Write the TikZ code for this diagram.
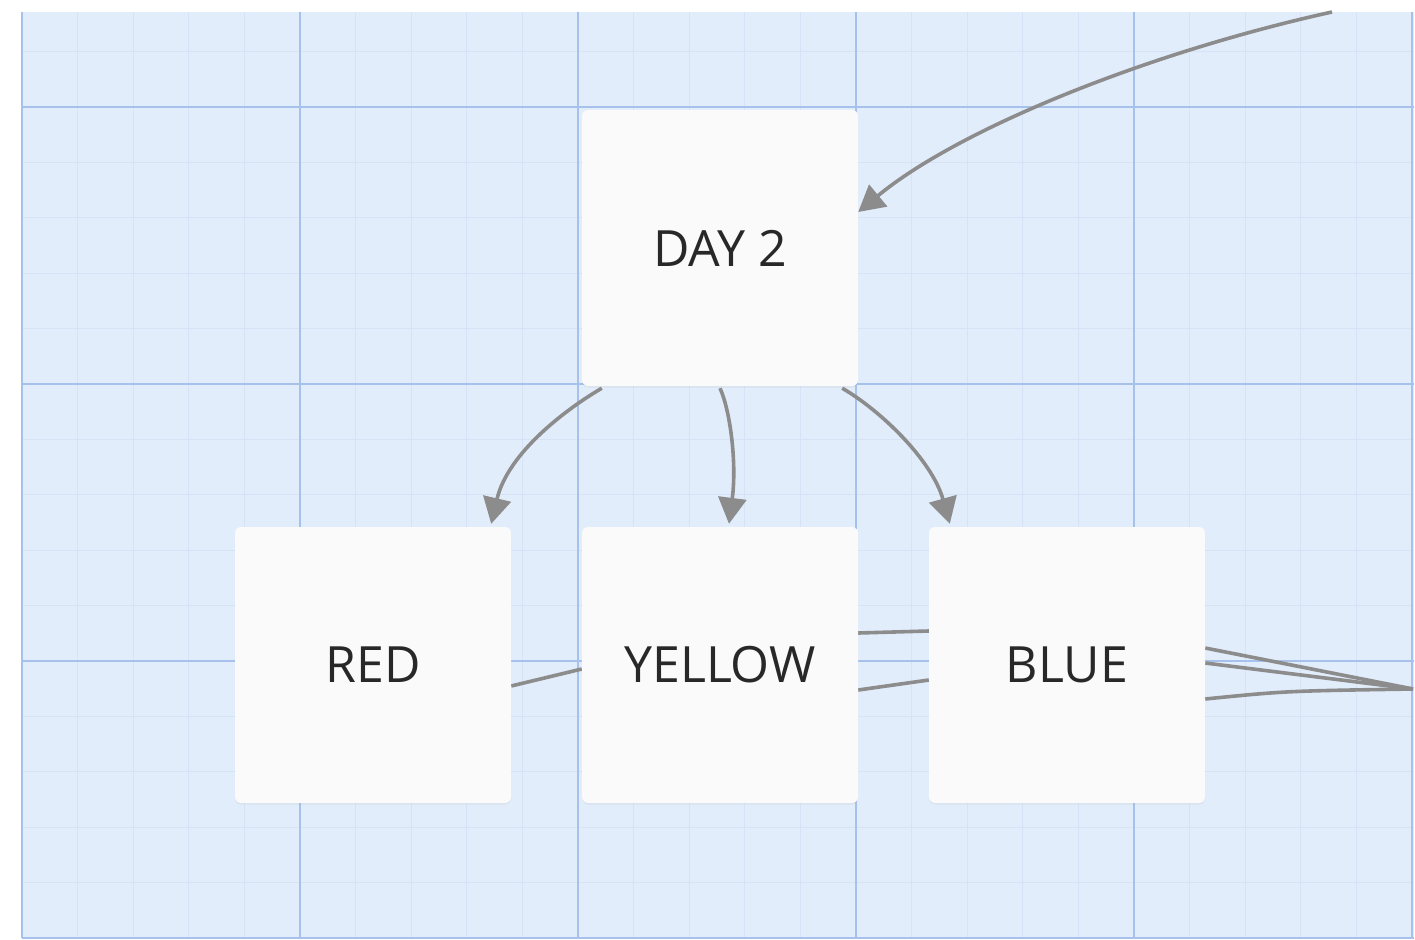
\documentclass[tikz,border=0pt]{standalone}
\usepackage{fontspec}
\setmainfont{Open Sans}
\usetikzlibrary{arrows.meta,calc,shadows}
\definecolor{paper}{RGB}{226,237,251}
\definecolor{minorline}{RGB}{214,227,246}
\definecolor{majorline}{RGB}{166,193,235}
\definecolor{cardfill}{RGB}{250,250,250}
\definecolor{linkgray}{RGB}{140,140,140}
\definecolor{labelink}{RGB}{40,40,40}
\pgfdeclarelayer{gridlayer}
\pgfdeclarelayer{linklayer}
\pgfsetlayers{gridlayer,linklayer,main}
\tikzset{
  card/.style={fill=cardfill, rounded corners=6pt, minimum width=276pt, minimum height=276pt,
    inner sep=0pt, text=labelink, font=\fontsize{50}{58}\selectfont,
    drop shadow={opacity=0.10, shadow xshift=0pt, shadow yshift=-1.5pt}},
  link/.style={draw=linkgray, line width=3.6pt},
  arrowlink/.style={link, -{Triangle[length=26pt,width=28pt]}},
  minorgrid/.style={draw=minorline, line width=0.8pt},
  majorgrid/.style={draw=majorline, line width=1.6pt}
}
\begin{document}
\begin{tikzpicture}[x=1pt,y=-1pt]
\useasboundingbox (0,0) rectangle (1415,939);

% squared paper
\begin{pgfonlayer}{gridlayer}
  \fill[paper] (22,12) rectangle (1414,938);
  \foreach \i in {0,...,25} {
    \pgfmathsetmacro\xx{22+\i*55.6}
    \draw[minorgrid] (\xx,12) -- (\xx,938);
  }
  \foreach \j in {-1,...,15} {
    \pgfmathsetmacro\yy{107+\j*55.4}
    \draw[minorgrid] (22,\yy) -- (1414,\yy);
  }
  \foreach \i in {0,5,...,25} {
    \pgfmathsetmacro\xx{22+\i*55.6}
    \draw[majorgrid] (\xx,12) -- (\xx,938);
  }
  \foreach \j in {0,5,10,15} {
    \pgfmathsetmacro\yy{107+\j*55.4}
    \draw[majorgrid] (22,\yy) -- (1414,\yy);
  }
\end{pgfonlayer}

% cards
\node[card] (day2)   at (720,248) {DAY 2};
\node[card] (red)    at (373,665) {RED};
\node[card] (yellow) at (720,665) {YELLOW};
\node[card] (blue)   at (1067,665) {BLUE};

% loose ends of links that run past the edge of the sheet
\coordinate (upstream) at (1332,12);
\coordinate (downstream) at (1413,689);

% links running behind the cards
\begin{pgfonlayer}{linklayer}
  \draw[link] ($(red.east)+(0,21)$) -- ($(yellow.west)+(0,4)$);
  \draw[link] ($(yellow.east)+(0,-32)$) -- ($(blue.west)+(0,-34)$);
  \draw[link] ($(yellow.east)+(0,25)$) -- ($(blue.west)+(0,15)$);
  \draw[link] ($(blue.east)+(0,-17)$) -- (downstream);
  \draw[link] ($(blue.east)+(0,-2)$) -- (downstream);
  \draw[link] ($(blue.east)+(0,34)$) .. controls ($(blue.east)+(80,26)$) .. (downstream);
\end{pgfonlayer}

% arrows
\draw[arrowlink] (upstream) .. controls (1150,52) and (960,128) .. ($(day2.east)+(0,-36)$);
\draw[arrowlink] ($(day2.south west)+(20,2)$) .. controls (568,408) and (508,452) .. ($(red.north east)+(-20,-3)$);
\draw[arrowlink] ($(day2.south)+(0,2)$) .. controls (730,410) and (737,462) .. ($(yellow.north)+(9,-3)$);
\draw[arrowlink] ($(day2.south east)+(-16,2)$) .. controls (880,410) and (932,460) .. ($(blue.north west)+(21,-3)$);
\end{tikzpicture}
\end{document}
